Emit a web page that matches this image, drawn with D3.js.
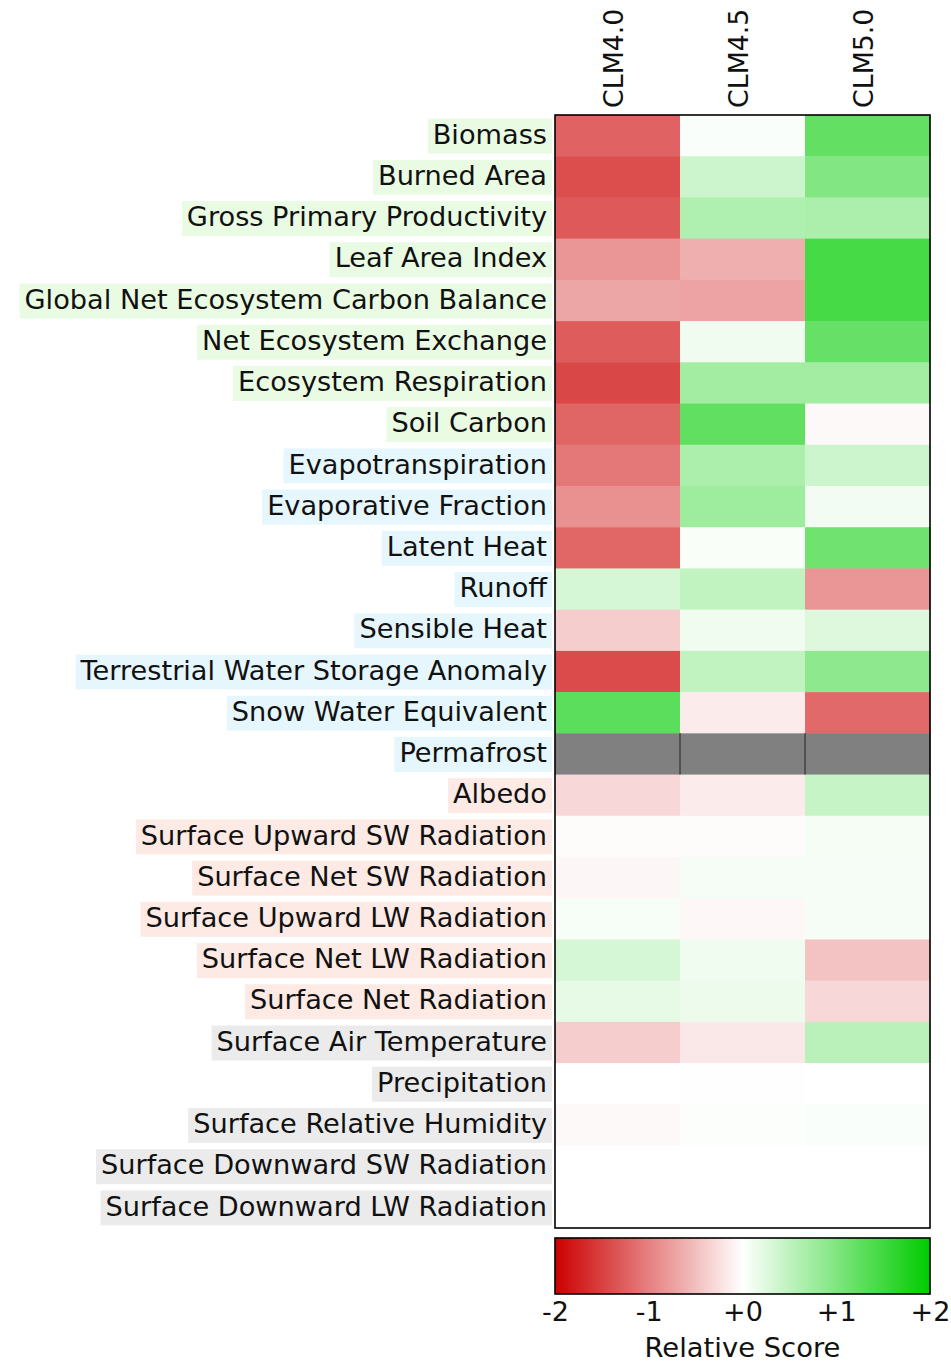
<!DOCTYPE html>
<html>
<head>
<meta charset="utf-8">
<script src="https://cdn.jsdelivr.net/npm/d3@7"></script>
<style>
  body { margin: 0; background: #fff; }
  text { font-family: "DejaVu Sans", sans-serif; fill: #111; }
</style>
</head>
<body>
<div id="chart"></div>
<script>
// variables, top to bottom
const variables = [
    "Biomass", "Burned Area", "Gross Primary Productivity", "Leaf Area Index",
    "Global Net Ecosystem Carbon Balance", "Net Ecosystem Exchange", "Ecosystem Respiration",
    "Soil Carbon", "Evapotranspiration", "Evaporative Fraction", "Latent Heat", "Runoff",
    "Sensible Heat", "Terrestrial Water Storage Anomaly", "Snow Water Equivalent", "Permafrost",
    "Albedo", "Surface Upward SW Radiation", "Surface Net SW Radiation",
    "Surface Upward LW Radiation", "Surface Net LW Radiation", "Surface Net Radiation",
    "Surface Air Temperature", "Precipitation", "Surface Relative Humidity",
    "Surface Downward SW Radiation", "Surface Downward LW Radiation"
];

// which section each variable belongs to
const sectionOf = [
    "eco", "eco", "eco", "eco", "eco", "eco", "eco", "eco",
    "hydro", "hydro", "hydro", "hydro", "hydro", "hydro", "hydro", "hydro",
    "rad", "rad", "rad", "rad", "rad", "rad",
    "forcing", "forcing", "forcing", "forcing", "forcing"
];

const models = ["CLM4.0", "CLM4.5", "CLM5.0"];

// relative scores (null = no data)
const clm40 = [-1.23, -1.39, -1.30, -0.82, -0.70, -1.28, -1.44, -1.20,
    -1.07, -0.86, -1.19, 0.33, -0.39, -1.41, 1.29, null,
    -0.31, -0.03, -0.07, 0.06, 0.33, 0.20,
    -0.39, 0.0, -0.05, 0.0, 0.0];
const clm45 = [0.04, 0.39, 0.63, -0.63, -0.72, 0.12, 0.72, 1.25,
    0.65, 0.76, 0.05, 0.49, 0.12, 0.49, -0.16, null,
    -0.16, -0.03, 0.07, -0.06, 0.12, 0.14,
    -0.18, -0.01, 0.02, 0.0, 0.0];
const clm50 = [1.22, 0.98, 0.65, 1.44, 1.44, 1.20, 0.72, -0.05,
    0.39, 0.10, 1.12, -0.82, 0.27, 0.89, -1.18, null,
    0.45, 0.08, 0.07, 0.07, -0.47, -0.31,
    0.54, 0.0, 0.04, 0.0, 0.0];

const scoreTicks = [-2, -1, 0, 1, 2];
const scoreTickLabels = ["-2", "-1", "+0", "+1", "+2"];

const sectionColor = { eco: "#eafbe4", hydro: "#e6f6fd", rad: "#fdeae4", forcing: "#ebebeb" };

function draw() {
    const W = 951, H = 1362;
    const left = 555, right = 930, top = 115, bottom = 1228;

    const svg = d3.select("#chart").append("svg")
        .attr("width", W).attr("height", H);
    svg.append("rect").attr("width", W).attr("height", H).attr("fill", "#fff");

    const x = d3.scaleBand().domain(models).range([left, right]);
    const y = d3.scaleBand().domain(variables).range([top, bottom]);

    const color = d3.scaleLinear()
        .domain([-2, 0, 2])
        .range(["#cc0000", "#ffffff", "#00cc00"])
        .clamp(true);

    const cells = [];
    const series = [clm40, clm45, clm50];
    variables.forEach((v, i) => {
        models.forEach((m, j) => cells.push({ v, m, val: series[j][i] }));
    });

    svg.append("g").selectAll("rect")
        .data(cells)
        .join("rect")
        .attr("x", d => x(d.m))
        .attr("y", d => y(d.v))
        .attr("width", x.bandwidth() + 0.5)
        .attr("height", y.bandwidth() + 0.5)
        .attr("fill", d => d.val === null ? "#808080" : color(d.val));

    // column separators inside missing-data rows
    const missing = cells.filter(d => d.val === null && d.m !== models[0]);
    svg.append("g").selectAll("line")
        .data(missing)
        .join("line")
        .attr("x1", d => x(d.m)).attr("x2", d => x(d.m))
        .attr("y1", d => y(d.v)).attr("y2", d => y(d.v) + y.bandwidth())
        .attr("stroke", "#333").attr("stroke-width", 1.2);

    svg.append("rect")
        .attr("x", left).attr("y", top)
        .attr("width", right - left).attr("height", bottom - top)
        .attr("fill", "none").attr("stroke", "#000").attr("stroke-width", 1.6);

    // row labels with section backgrounds
    const labels = svg.append("g").selectAll("g")
        .data(variables)
        .join("g");

    const texts = labels.append("text")
        .attr("x", 547)
        .attr("y", d => y(d) + y.bandwidth() / 2)
        .attr("dy", "0.3em")
        .attr("text-anchor", "end")
        .style("font-size", "27.2px")
        .text(d => d);

    texts.each(function (d, i) {
        const w = this.getComputedTextLength();
        d3.select(this.parentNode).insert("rect", "text")
            .attr("x", 547 - w - 5)
            .attr("y", y(d) + y.bandwidth() / 2 - 17)
            .attr("width", w + 10)
            .attr("height", 35)
            .attr("fill", sectionColor[sectionOf[i]]);
    });

    // column labels
    svg.append("g").selectAll("text")
        .data(models)
        .join("text")
        .attr("transform", d => `translate(${x(d) + x.bandwidth() / 2 - 4}, 108) rotate(-90)`)
        .attr("dy", "0.35em")
        .style("font-size", "26.8px")
        .text(d => d);

    // colorbar
    const cbTop = 1238, cbBottom = 1294;
    const cx = d3.scaleLinear().domain([-2, 2]).range([left, right]);

    const grad = svg.append("defs").append("linearGradient")
        .attr("id", "cbGrad").attr("x1", "0%").attr("x2", "100%");
    grad.selectAll("stop")
        .data(d3.range(-2, 2.001, 0.25))
        .join("stop")
        .attr("offset", d => ((d + 2) / 4 * 100) + "%")
        .attr("stop-color", d => color(d));

    svg.append("rect")
        .attr("x", left).attr("y", cbTop)
        .attr("width", right - left).attr("height", cbBottom - cbTop)
        .attr("fill", "url(#cbGrad)")
        .attr("stroke", "#000").attr("stroke-width", 1.6);

    const axis = svg.append("g")
        .attr("transform", `translate(0, ${cbBottom})`)
        .call(d3.axisBottom(cx)
            .tickValues(scoreTicks)
            .tickSize(0)
            .tickPadding(8)
            .tickFormat((d, i) => scoreTickLabels[i]));
    axis.select(".domain").remove();
    axis.selectAll("text")
        .style("font-size", "27px")
        .style("font-family", "DejaVu Sans, sans-serif")
        .attr("fill", "#111");

    svg.append("text")
        .attr("x", (left + right) / 2)
        .attr("y", 1357)
        .attr("text-anchor", "middle")
        .style("font-size", "27.4px")
        .text("Relative Score");
}

document.addEventListener("DOMContentLoaded", draw);
</script>
</body>
</html>
